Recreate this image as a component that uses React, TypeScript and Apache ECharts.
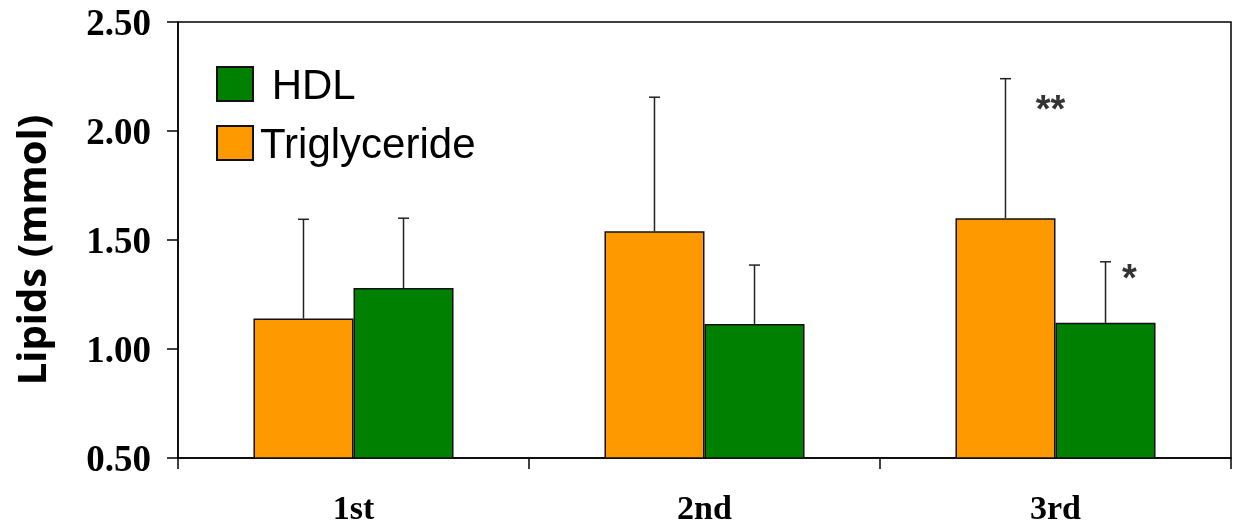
import React, { useEffect, useRef } from "react";
import * as echarts from "echarts";

const categories = ["1st", "2nd", "3rd"];
const triglyceride = [1.14, 1.54, 1.6];
const triglycerideErr = [1.595, 2.155, 2.24];
const hdl = [1.28, 1.115, 1.12];
const hdlErr = [1.6, 1.385, 1.4];
const yTicks = [0.5, 1.0, 1.5, 2.0, 2.5];
const annotCategory = [2, 2];
const annotValue = [2.13, 1.36];
const annotText = ["**", "*"];
const annotSeries = ["Triglyceride", "HDL"];

const ORANGE = "#ff9900";
const GREEN = "#008000";
const CAT_GAP = 0.43;

export default function App() {
  const ref = useRef<HTMLDivElement>(null);
  useEffect(() => {
    if (!ref.current) return;
    const chart = echarts.init(ref.current, null, { renderer: "svg" });
    const errData: number[][] = [];
    categories.forEach((_, i) => {
      errData.push([i, triglyceride[i], triglycerideErr[i], 0]);
      errData.push([i, hdl[i], hdlErr[i], 1]);
    });
    const annotData = annotText.map((t, i) => ({
      value: [annotCategory[i], annotValue[i]],
      label: {
        formatter: t,
        offset: annotSeries[i] === "Triglyceride" ? [-5, 6] : [74, 7],
      },
    }));
    chart.setOption({
      animation: false,
      grid: {
        left: 178,
        right: 5,
        top: 22,
        bottom: 69,
        show: true,
        borderColor: "#000",
        borderWidth: 1.5,
        backgroundColor: "transparent",
        outerBoundsMode: "none",
        containLabel: false,
      },
      legend: {
        data: ["HDL", "Triglyceride"],
        orient: "vertical",
        left: 211,
        top: 58,
        itemWidth: 36,
        itemHeight: 34,
        itemGap: 17,
        icon: "rect",
        formatter: (n: string) => (n === "HDL" ? " HDL" : n),
        textStyle: {
          fontFamily: "Liberation Sans",
          fontSize: 42,
          color: "#000",
          padding: [2, 0, 0, 2],
        },
      },
      xAxis: {
        type: "category",
        data: categories,
        axisLine: { lineStyle: { color: "#000", width: 1.5 } },
        axisTick: { show: true, length: 11, lineStyle: { color: "#000", width: 1.5 } },
        axisLabel: {
          margin: 35,
          lineHeight: 28,
          fontFamily: "Liberation Serif",
          fontWeight: "bold",
          fontSize: 34,
          color: "#000",
        },
      },
      yAxis: {
        type: "value",
        min: yTicks[0],
        max: yTicks[yTicks.length - 1],
        interval: 0.5,
        splitLine: { show: false },
        axisLine: { show: true, lineStyle: { color: "#000", width: 1.5 } },
        axisTick: { show: true, length: 11, lineStyle: { color: "#000", width: 1.5 } },
        axisLabel: {
          margin: 27,
          fontFamily: "Liberation Serif",
          fontWeight: "bold",
          fontSize: 37,
          color: "#000",
          formatter: (v: number) => v.toFixed(2),
        },
        name: "Lipids (mmol)",
        nameLocation: "middle",
        nameGap: 128,
        nameTextStyle: {
          fontFamily: "Open Sans",
          fontWeight: "bold",
          fontSize: 40,
          lineHeight: 40,
          color: "#000",
          padding: [0, 20, 0, 0],
        },
      },
      series: [
        {
          name: "Triglyceride",
          type: "bar",
          data: triglyceride,
          barGap: "0%",
          barCategoryGap: CAT_GAP * 100 + "%",
          itemStyle: { color: ORANGE, borderColor: "#111", borderWidth: 1.5 },
        },
        {
          name: "HDL",
          type: "bar",
          data: hdl,
          barGap: "0%",
          barCategoryGap: CAT_GAP * 100 + "%",
          itemStyle: { color: GREEN, borderColor: "#111", borderWidth: 1.5 },
        },
        {
          name: "err",
          type: "custom",
          data: errData,
          z: 1,
          renderItem: (params: any, api: any) => {
            const cat = api.value(0);
            const lo = api.coord([cat, api.value(1)]);
            const hi = api.coord([cat, api.value(2)]);
            const band = api.size([1, 0])[0];
            const barW = (band * (1 - CAT_GAP)) / 2;
            const x = lo[0] + (api.value(3) === 0 ? -barW / 2 : barW / 2);
            const cap = 5.5;
            const style = { stroke: "#222", lineWidth: 1.5 };
            return {
              type: "group",
              children: [
                { type: "line", shape: { x1: x, y1: lo[1], x2: x, y2: hi[1] }, style },
                { type: "line", shape: { x1: x - cap, y1: hi[1], x2: x + cap, y2: hi[1] }, style },
              ],
            };
          },
        },
        {
          name: "annot",
          type: "scatter",
          symbolSize: 0,
          data: annotData,
          label: {
            show: true,
            position: "inside",
            fontFamily: "Liberation Sans",
            fontWeight: "bold",
            fontSize: 38,
            color: "#000",
          },
        },
      ],
    });
    return () => chart.dispose();
  }, []);
  return (
    <div
      ref={ref}
      style={{ position: "fixed", left: 0, top: 0, width: 1236, height: 527 }}
    />
  );
}
